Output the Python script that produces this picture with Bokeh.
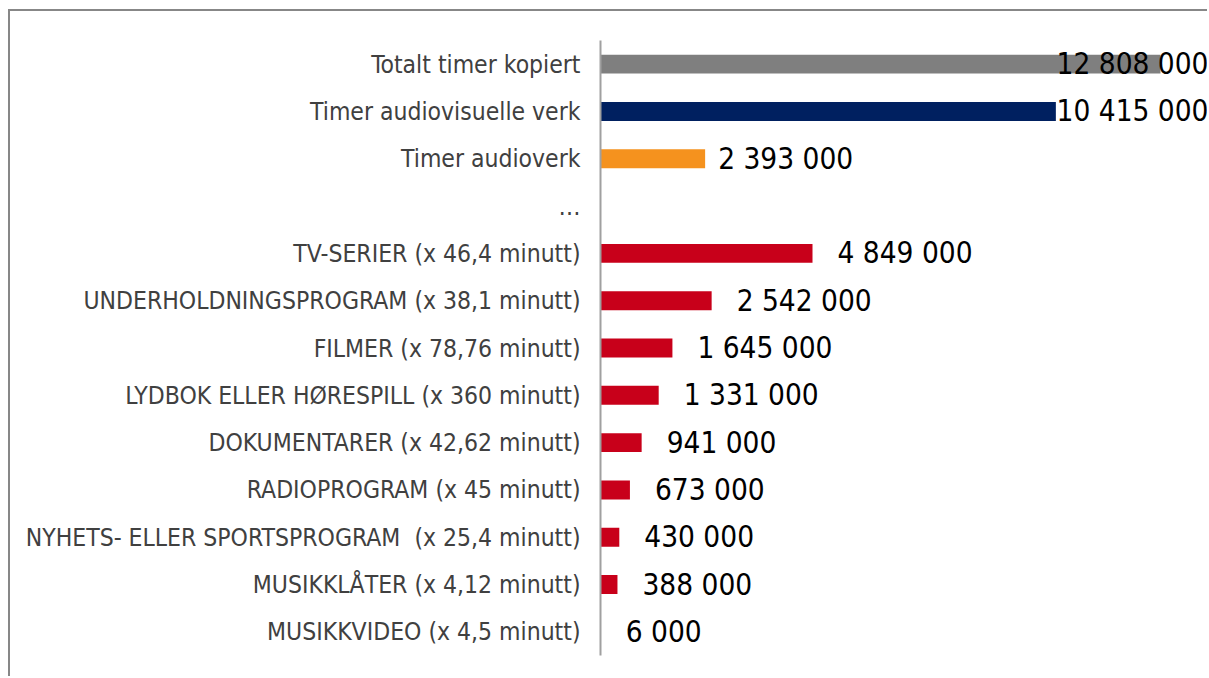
from bokeh.plotting import figure
from bokeh.models import ColumnDataSource, FactorRange, Range1d
from bokeh.core.properties import value
from bokeh.embed import file_html
from bokeh.resources import INLINE

categories = [
    "Totalt timer kopiert",
    "Timer audiovisuelle verk",
    "Timer audioverk",
    "…",
    "TV-SERIER (x 46,4 minutt)",
    "UNDERHOLDNINGSPROGRAM (x 38,1 minutt)",
    "FILMER (x 78,76 minutt)",
    "LYDBOK ELLER HØRESPILL (x 360 minutt)",
    "DOKUMENTARER (x 42,62 minutt)",
    "RADIOPROGRAM (x 45 minutt)",
    "NYHETS- ELLER SPORTSPROGRAM\u00a0 (x 25,4 minutt)",
    "MUSIKKLÅTER (x 4,12 minutt)",
    "MUSIKKVIDEO (x 4,5 minutt)",
]
values = [12808000, 10415000, 2393000, None, 4849000, 2542000, 1645000,
          1331000, 941000, 673000, 430000, 388000, 6000]
groups = ["total", "audiovisual", "audio", None, "work", "work", "work",
          "work", "work", "work", "work", "work", "work"]

group_colors = {"total": "#7f7f7f", "audiovisual": "#002060",
                "audio": "#F5921E", "work": "#C8001A"}

LABEL_FONT = "DejaVu Sans Condensed"

x_end = 13.929e6

bar_y, bar_v, bar_c = [], [], []
lab_in_y, lab_in_x, lab_in_t, lab_in_off = [], [], [], []
lab_r_y, lab_r_x, lab_r_t = [], [], []
for c, v, g in zip(categories, values, groups):
    if v is None:
        continue
    bar_y.append(c)
    bar_v.append(v)
    bar_c.append(group_colors[g])
    txt = "{:,}".format(v).replace(",", " ")
    if v > 0.7 * x_end:
        lab_r_y.append(c)
        lab_r_x.append(x_end)
        lab_r_t.append(txt)
    else:
        lab_in_y.append(c)
        lab_in_x.append(v)
        lab_in_t.append(txt)
        lab_in_off.append(13 if g == "audio" else 25)

p = figure(
    width=1199, height=667,
    y_range=FactorRange(factors=categories[::-1], range_padding=0),
    x_range=Range1d(0, x_end),
    output_backend="svg", toolbar_location=None,
    min_border_left=590, min_border_right=0,
    min_border_top=29, min_border_bottom=23,
)
p.styles = {"border-top": "2px solid #878787", "border-left": "2px solid #878787",
            "margin-left": "8px", "margin-top": "9px"}
p.outline_line_color = None
p.xaxis.visible = False
p.xgrid.grid_line_color = None
p.ygrid.grid_line_color = None

yax = p.yaxis[0]
yax.axis_line_color = "#a0a0a0"
yax.axis_line_width = 2
yax.major_tick_line_color = None
yax.minor_tick_line_color = None
yax.major_tick_in = 0
yax.major_tick_out = 0
yax.major_label_standoff = 20
yax.major_label_text_font = LABEL_FONT
yax.major_label_text_font_size = "24.5px"
yax.major_label_text_color = "#404040"

src = ColumnDataSource(dict(y=bar_y, v=bar_v, c=bar_c))
p.hbar(y="y", left=0, right="v", height=0.4, fill_color="c",
       line_color=None, source=src)

src_in = ColumnDataSource(dict(y=lab_in_y, x=lab_in_x, t=lab_in_t, o=lab_in_off))
p.text(x="x", y="y", text="t", x_offset="o", source=src_in,
       text_font=value(LABEL_FONT), text_font_size="29.5px",
       text_color="#000000", text_align="left", text_baseline="middle")

src_r = ColumnDataSource(dict(y=lab_r_y, x=lab_r_x, t=lab_r_t))
p.text(x="x", y="y", text="t", x_offset=-1, source=src_r,
       text_font=value(LABEL_FONT), text_font_size="29.5px",
       text_color="#000000", text_align="right", text_baseline="middle")

open("out.html", "w").write(file_html(p, INLINE))
